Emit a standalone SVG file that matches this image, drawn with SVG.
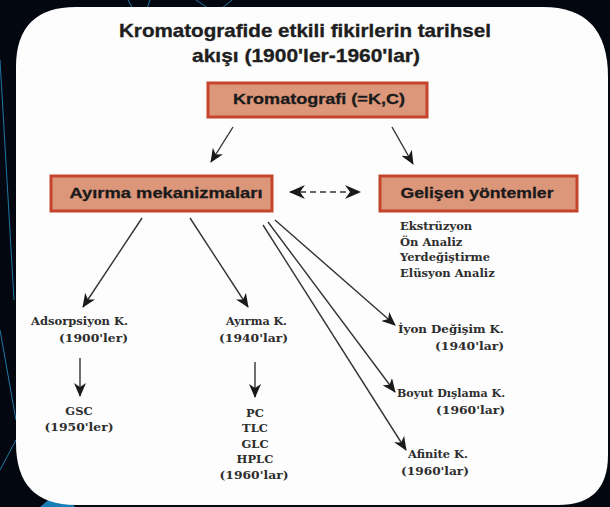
<svg xmlns="http://www.w3.org/2000/svg" width="610" height="507" viewBox="0 0 610 507">
<defs>
<style>
.title{font-family:"Liberation Sans",Arial,sans-serif;font-weight:bold;font-size:19px;fill:#1e1e1e;stroke:#1e1e1e;stroke-width:0.35;text-anchor:middle}
.box{fill:#dc967a;stroke:#c4452c;stroke-width:3}
.btxt{font-family:"Liberation Sans",Arial,sans-serif;font-weight:bold;font-size:15.5px;fill:#1a1a1a;stroke:#1a1a1a;stroke-width:0.3;text-anchor:middle}
.lbl{font-family:"DejaVu Serif","Liberation Serif",serif;font-weight:bold;font-size:11.5px;fill:#2e2e2e}
.edge{stroke:#333;stroke-width:1.4;fill:none}
.streak{stroke:#2aa8e6;stroke-width:1;fill:none;opacity:0.7}
</style>
<marker id="ah" viewBox="0 0 14 12" refX="13" refY="6" markerWidth="14" markerHeight="12" markerUnits="userSpaceOnUse" orient="auto">
<path d="M0,0 L14,6 L0,12 L4,6 z" fill="#1a1a1a"/>
</marker>
<marker id="ahb" viewBox="0 0 16 14" refX="15" refY="7" markerWidth="16" markerHeight="14" markerUnits="userSpaceOnUse" orient="auto-start-reverse">
<path d="M0,0 L16,7 L0,14 L5,7 z" fill="#1a1a1a"/>
</marker>
</defs>
<rect width="610" height="507" fill="#03070f"/>
<g id="streaks">
<path class="streak" d="M128,0 L140,22"/>
<path class="streak" d="M150,0 L143,20"/>
<path class="streak" d="M196,0 L208,8"/>
<path class="streak" d="M232,0 L222,8"/>
<path class="streak" d="M0,60 L14,300"/>
<path class="streak" d="M0,330 L16,420"/>
<path class="streak" d="M0,470 L16,440"/>
<path d="M40,507 L60,490 L75,507 z" fill="#1f9be0" opacity="0.8"/>
</g>
<path id="card" d="M76,7 L543,7 Q608,7 608,77 L608,455 Q608,505 558,505 L76,505 Q16,505 16,443 L16,67 Q16,7 76,7 z" fill="#fdfdfd"/>
<g id="title">
<text class="title" x="305" y="37" textLength="372" lengthAdjust="spacingAndGlyphs">Kromatografide etkili fikirlerin tarihsel</text>
<text class="title" x="306" y="62" textLength="228" lengthAdjust="spacingAndGlyphs">akışı (1900'ler-1960'lar)</text>
</g>
<g id="connectors">
<line class="edge" x1="233" y1="127" x2="211" y2="162" marker-end="url(#ah)"/>
<line class="edge" x1="392" y1="127" x2="413" y2="164" marker-end="url(#ah)"/>
<line class="edge" x1="290" y1="192" x2="360" y2="192" stroke-dasharray="6,4" marker-start="url(#ahb)" marker-end="url(#ahb)"/>
<line class="edge" x1="142" y1="218" x2="83" y2="307" marker-end="url(#ah)"/>
<line class="edge" x1="190" y1="218" x2="248" y2="307" marker-end="url(#ah)"/>
<line class="edge" x1="275" y1="220" x2="395" y2="325" marker-end="url(#ah)"/>
<line class="edge" x1="268" y1="222" x2="395" y2="392" marker-end="url(#ah)"/>
<line class="edge" x1="263" y1="225" x2="406" y2="450" marker-end="url(#ah)"/>
<line class="edge" x1="80" y1="358" x2="80" y2="396" marker-end="url(#ah)"/>
<line class="edge" x1="255" y1="362" x2="255" y2="397" marker-end="url(#ah)"/>
</g>
<g id="n-kromatografi">
<rect class="box" x="208" y="83" width="219" height="34"/>
<text class="btxt" x="319" y="104" textLength="172" lengthAdjust="spacingAndGlyphs">Kromatografi (=K,C)</text>
</g>
<g id="n-ayirma">
<rect class="box" x="51" y="176" width="221" height="35"/>
<text class="btxt" x="166" y="198" textLength="193" lengthAdjust="spacingAndGlyphs">Ayırma mekanizmaları</text>
</g>
<g id="n-gelisen">
<rect class="box" x="380" y="176" width="197" height="35"/>
<text class="btxt" x="477" y="198" textLength="153" lengthAdjust="spacingAndGlyphs">Gelişen yöntemler</text>
</g>
<g id="n-gelisen-list" class="lbl">
<text x="400" y="230">Ekstrüzyon</text>
<text x="400" y="246">Ön Analiz</text>
<text x="400" y="261">Yerdeğiştirme</text>
<text x="400" y="277">Elüsyon Analiz</text>
</g>
<g id="n-adsorpsiyon" class="lbl">
<text x="31" y="325" textLength="97" lengthAdjust="spacingAndGlyphs">Adsorpsiyon K.</text>
<text x="59" y="342" textLength="69" lengthAdjust="spacingAndGlyphs">(1900'ler)</text>
</g>
<g id="n-gsc" class="lbl" text-anchor="middle">
<text x="79" y="415">GSC</text>
<text x="79" y="431" textLength="69" lengthAdjust="spacingAndGlyphs">(1950'ler)</text>
</g>
<g id="n-ayirmak" class="lbl">
<text x="226" y="325" textLength="61" lengthAdjust="spacingAndGlyphs">Ayırma K.</text>
<text x="219" y="342" textLength="69" lengthAdjust="spacingAndGlyphs">(1940'lar)</text>
</g>
<g id="n-pc" class="lbl" text-anchor="middle">
<text x="255" y="417">PC</text>
<text x="255" y="432">TLC</text>
<text x="255" y="448">GLC</text>
<text x="255" y="463">HPLC</text>
<text x="254" y="479" textLength="69" lengthAdjust="spacingAndGlyphs">(1960'lar)</text>
</g>
<g id="n-iyon" class="lbl">
<text x="398" y="333" textLength="106" lengthAdjust="spacingAndGlyphs">İyon Değişim K.</text>
<text x="435" y="350" textLength="69" lengthAdjust="spacingAndGlyphs">(1940'lar)</text>
</g>
<g id="n-boyut" class="lbl">
<text x="397" y="397" textLength="108" lengthAdjust="spacingAndGlyphs">Boyut Dışlama K.</text>
<text x="436" y="414" textLength="69" lengthAdjust="spacingAndGlyphs">(1960'lar)</text>
</g>
<g id="n-afinite" class="lbl">
<text x="408" y="458" textLength="60" lengthAdjust="spacingAndGlyphs">Afinite K.</text>
<text x="401" y="475" textLength="68" lengthAdjust="spacingAndGlyphs">(1960'lar)</text>
</g>
</svg>
